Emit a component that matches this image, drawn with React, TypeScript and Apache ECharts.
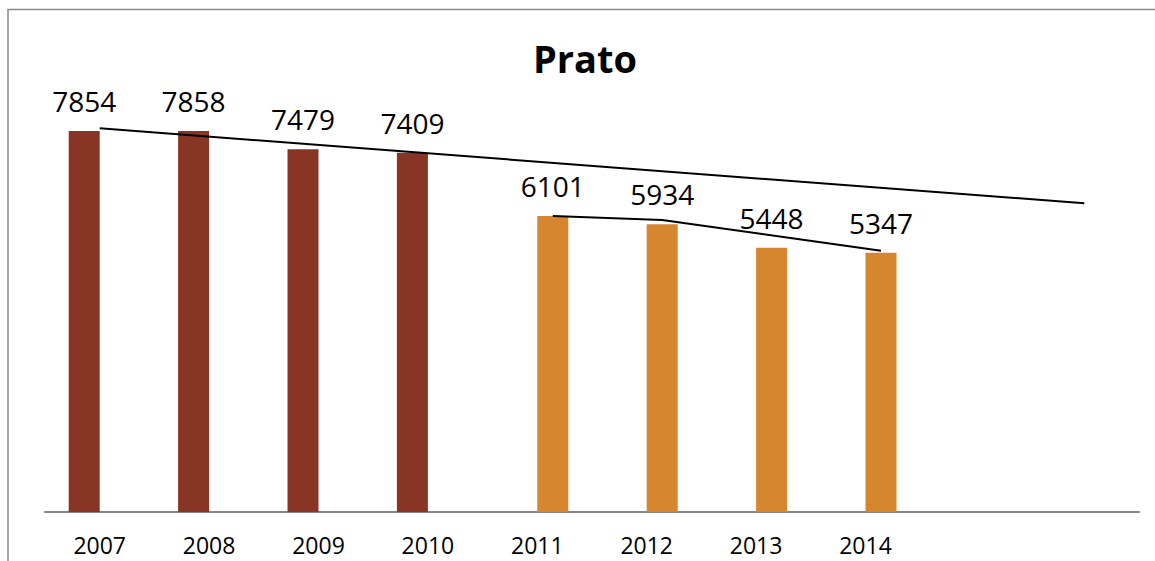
import React, { useEffect, useRef } from "react";
import * as echarts from "echarts";

const categories = ["2007", "2008", "2009", "2010", "2011", "2012", "2013", "2014", "", " "];
const earlyValues: (number | string)[] = [7854, 7858, 7479, 7409, "-", "-", "-", "-", "-", "-"];
const lateValues: (number | string)[] = ["-", "-", "-", "-", 6101, 5934, 5448, 5347, "-", "-"];
const trendAll: (number | string)[] = [7911, "-", "-", "-", "-", "-", "-", "-", "-", 6365];
const trendRecent: (number | string)[] = ["-", "-", "-", "-", 6101, 6021, "-", 5388, "-", "-"];

const FONT = "Open Sans";

export default function App() {
  const ref = useRef<HTMLDivElement>(null);
  useEffect(() => {
    if (!ref.current) return;
    const chart = echarts.init(ref.current, null, { renderer: "svg" });
    const gridLeft = 45;
    const gridRight = 16;
    const gridTop = 75.5;
    const gridBottom = 49;
    const shift = 15.5;
    const labelStyle = {
      show: true,
      position: "top" as const,
      distance: 16,
      color: "#000",
      fontSize: 28,
      fontFamily: FONT,
    };
    chart.setOption({
      animation: false,
      backgroundColor: "#fff",
      title: {
        text: "Prato",
        left: 580,
        top: 34,
        textAlign: "center",
        textStyle: { fontSize: 38, fontWeight: "bold", fontFamily: FONT, color: "#000" },
      },
      graphic: [
        {
          type: "rect",
          shape: { x: 8, y: 9.5, width: 1300, height: 700 },
          style: { fill: "none", stroke: "#8a8a8a", lineWidth: 1.5 },
          silent: true,
          z: 0,
        },
      ],
      grid: [
        { left: gridLeft, right: gridRight, top: gridTop, bottom: gridBottom },
        { left: gridLeft + shift, right: gridRight - shift, top: gridTop, bottom: gridBottom },
      ],
      xAxis: [
        {
          type: "category",
          data: categories,
          gridIndex: 0,
          axisLine: { show: true, lineStyle: { color: "#868686", width: 2 } },
          axisTick: { show: false },
          axisLabel: { color: "#000", fontSize: 23, fontFamily: FONT, margin: 21 },
        },
        {
          type: "category",
          data: categories,
          gridIndex: 1,
          show: false,
        },
      ],
      yAxis: [
        { type: "value", min: 0, max: 9000, gridIndex: 0, show: false, splitLine: { show: false } },
        { type: "value", min: 0, max: 9000, gridIndex: 1, show: false, splitLine: { show: false } },
      ],
      series: [
        {
          type: "bar",
          data: earlyValues,
          xAxisIndex: 0,
          yAxisIndex: 0,
          barWidth: 31,
          barGap: "0%",
          itemStyle: { color: "#883525" },
          label: labelStyle,
        },
        {
          type: "bar",
          data: lateValues,
          xAxisIndex: 0,
          yAxisIndex: 0,
          barWidth: 31,
          barGap: "0%",
          itemStyle: { color: "#D5862F" },
          label: labelStyle,
        },
        {
          type: "line",
          data: trendAll,
          xAxisIndex: 0,
          yAxisIndex: 0,
          connectNulls: true,
          symbol: "none",
          lineStyle: { color: "#000", width: 2 },
          z: 5,
        },
        {
          type: "line",
          data: trendRecent,
          xAxisIndex: 1,
          yAxisIndex: 1,
          connectNulls: true,
          symbol: "none",
          lineStyle: { color: "#000", width: 2 },
          z: 5,
        },
      ],
    });
    return () => chart.dispose();
  }, []);
  return (
    <div
      ref={ref}
      style={{ position: "fixed", left: 0, top: 0, width: 1155, height: 561, background: "#fff" }}
    />
  );
}
